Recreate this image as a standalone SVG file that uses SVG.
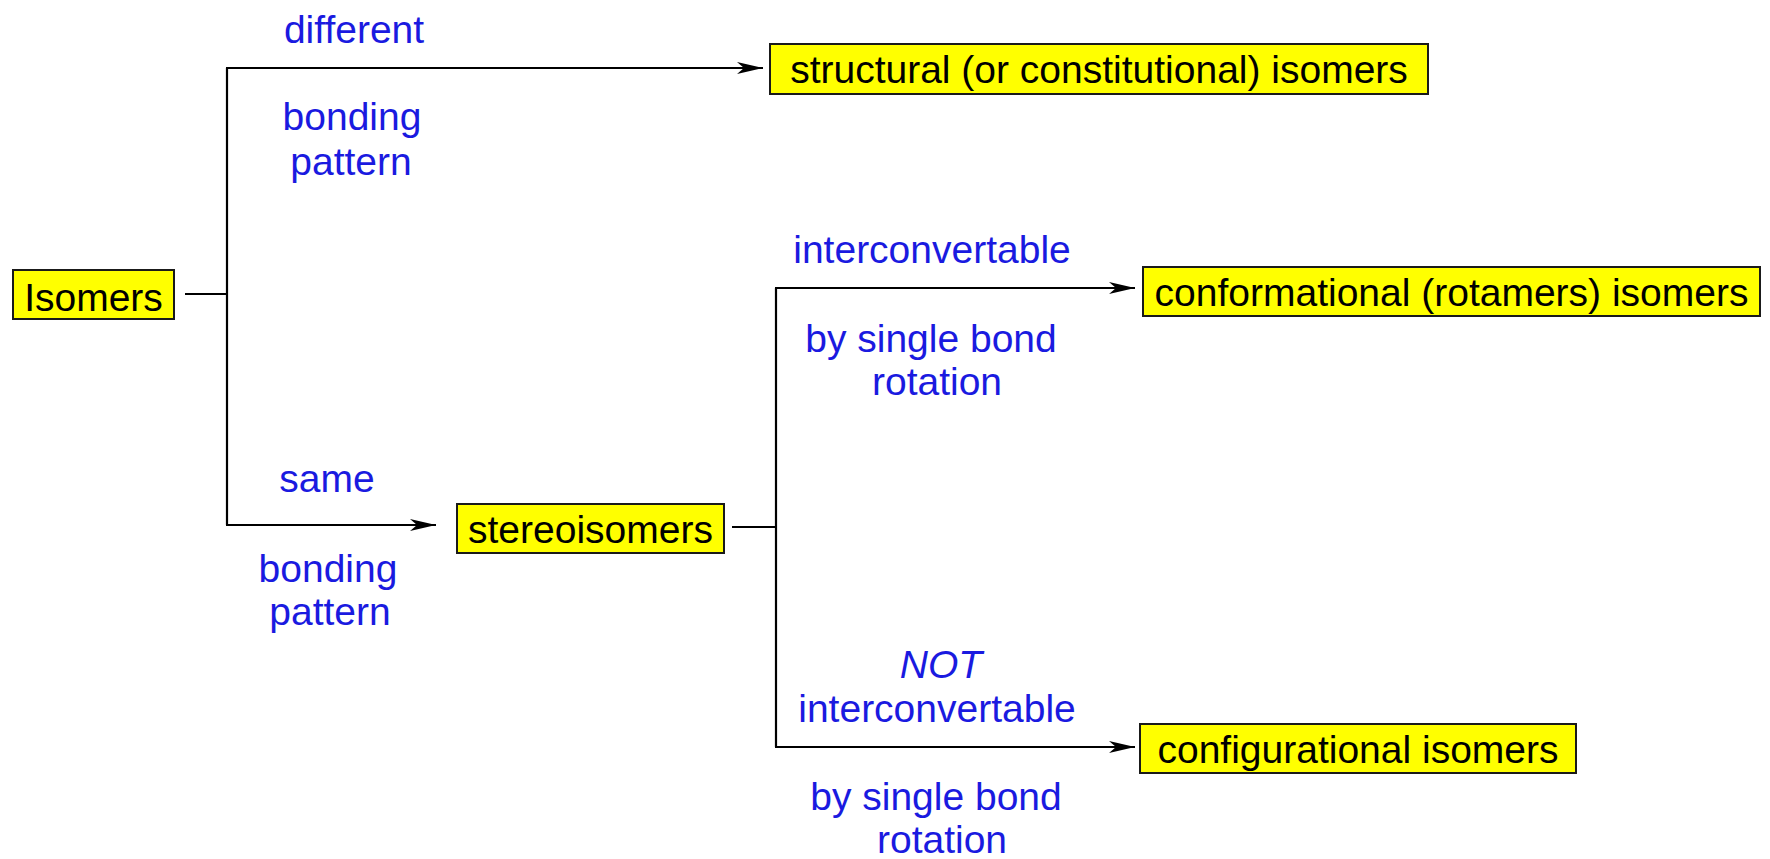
<svg xmlns="http://www.w3.org/2000/svg" width="1770" height="859" viewBox="0 0 1770 859">
  <style>
    .box { fill: #ffff00; stroke: #1a1a1a; stroke-width: 2; }
    .nt { font-family: "Liberation Sans", Arial, sans-serif; font-size: 39px; fill: #000; text-anchor: middle; }
    .lb { font-family: "Liberation Sans", Arial, sans-serif; font-size: 39px; fill: #1a1ae0; text-anchor: middle; }
    .ln { stroke: #000; stroke-width: 2.2; fill: none; }
  </style>
  <defs>
    <marker id="arr" viewBox="0 0 26 12" refX="26" refY="6" markerWidth="26" markerHeight="12" markerUnits="userSpaceOnUse" orient="auto">
      <path d="M0,0 L26,6 L0,12 L7,6 Z" fill="#000"/>
    </marker>
  </defs>
  <rect width="1770" height="859" fill="#fff"/>

  <g id="connectors">
    <line class="ln" x1="185" y1="294" x2="227" y2="294"/>
    <line class="ln" x1="227" y1="68" x2="227" y2="525"/>
    <line class="ln" x1="226" y1="68" x2="763" y2="68" marker-end="url(#arr)"/>
    <line class="ln" x1="226" y1="525" x2="436" y2="525" marker-end="url(#arr)"/>
    <line class="ln" x1="732" y1="527" x2="776" y2="527"/>
    <line class="ln" x1="776" y1="288" x2="776" y2="747"/>
    <line class="ln" x1="775" y1="288" x2="1135" y2="288" marker-end="url(#arr)"/>
    <line class="ln" x1="775" y1="747" x2="1135" y2="747" marker-end="url(#arr)"/>
  </g>

  <g id="labels">
    <text class="lb" x="354" y="43">different</text>
    <text class="lb" x="352" y="130">bonding</text>
    <text class="lb" x="351" y="175">pattern</text>
    <text class="lb" x="327" y="492">same</text>
    <text class="lb" x="328" y="582">bonding</text>
    <text class="lb" x="330" y="625">pattern</text>
    <text class="lb" x="932" y="263">interconvertable</text>
    <text class="lb" x="931" y="352">by single bond</text>
    <text class="lb" x="937" y="395">rotation</text>
    <text class="lb" x="941" y="678" font-style="italic">NOT</text>
    <text class="lb" x="937" y="722">interconvertable</text>
    <text class="lb" x="936" y="810">by single bond</text>
    <text class="lb" x="942" y="853">rotation</text>
  </g>

  <g id="isomers">
    <rect class="box" x="13" y="270" width="161" height="49"/>
    <text class="nt" x="93.5" y="311">Isomers</text>
  </g>
  <g id="structural">
    <rect class="box" x="770" y="44" width="658" height="50"/>
    <text class="nt" x="1099" y="83">structural (or constitutional) isomers</text>
  </g>
  <g id="stereoisomers">
    <rect class="box" x="457" y="504" width="267" height="49"/>
    <text class="nt" x="590.5" y="543">stereoisomers</text>
  </g>
  <g id="conformational">
    <rect class="box" x="1143" y="267" width="617" height="49"/>
    <text class="nt" x="1451.5" y="306">conformational (rotamers) isomers</text>
  </g>
  <g id="configurational">
    <rect class="box" x="1140" y="724" width="436" height="49"/>
    <text class="nt" x="1358" y="763">configurational isomers</text>
  </g>
</svg>
